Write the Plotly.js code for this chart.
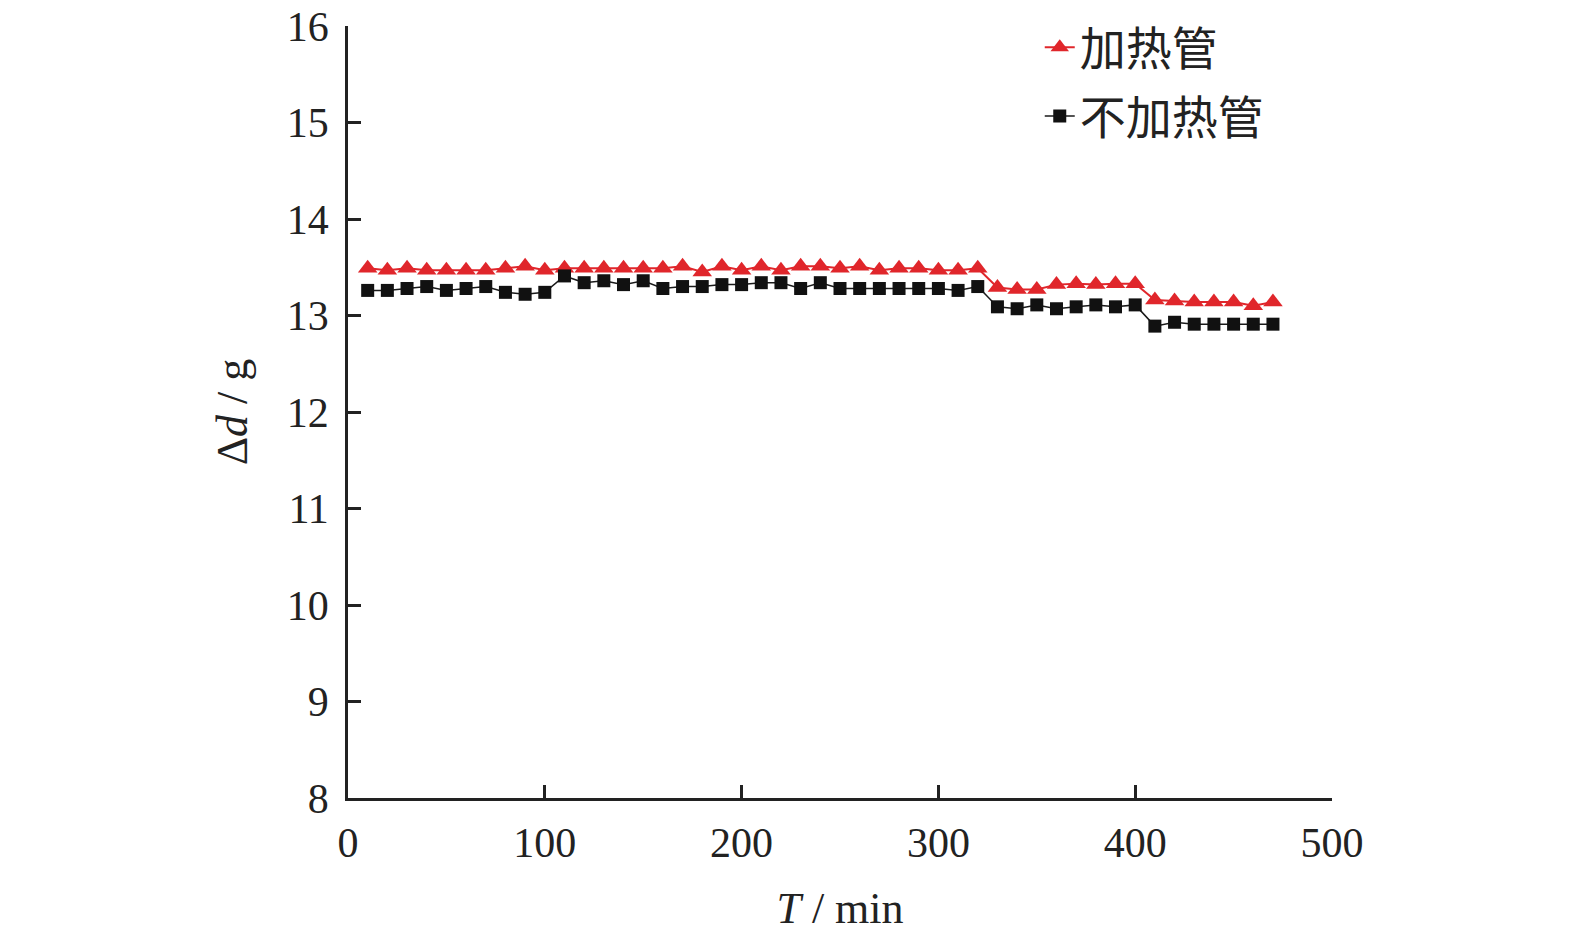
<!DOCTYPE html>
<html>
<head>
<meta charset="utf-8">
<script src="https://cdn.plot.ly/plotly-3.0.1.min.js"></script>
<style>
  html, body { margin: 0; padding: 0; background: #fff; overflow: hidden; }
  #chart { width: 1575px; height: 936px; }
</style>
</head>
<body>
<div id="chart"></div>
<script>
// time in minutes, sampled every 10 min
const timeMin = [10,20,30,40,50,60,70,80,90,100,110,120,130,140,150,160,170,180,190,200,
  210,220,230,240,250,260,270,280,290,300,310,320,330,340,350,360,370,380,390,400,
  410,420,430,440,450,460,470];

// 加热管
const heated = [13.49,13.47,13.49,13.47,13.47,13.47,13.47,13.49,13.51,13.47,
  13.49,13.49,13.49,13.49,13.49,13.49,13.51,13.45,13.51,13.47,
  13.51,13.47,13.51,13.51,13.49,13.51,13.47,13.49,13.49,13.47,13.47,13.49,
  13.29,13.27,13.27,13.32,13.33,13.32,13.33,13.33,
  13.16,13.15,13.14,13.14,13.14,13.10,13.14];

// 不加热管
const unheated = [13.26,13.26,13.28,13.30,13.26,13.28,13.30,13.24,13.22,13.24,
  13.41,13.34,13.36,13.32,13.36,13.28,13.30,13.30,13.32,13.32,
  13.34,13.34,13.28,13.34,13.28,13.28,13.28,13.28,13.28,13.28,13.26,13.30,
  13.09,13.07,13.11,13.07,13.09,13.11,13.09,13.11,
  12.89,12.93,12.91,12.91,12.91,12.91,12.91];

const seriesNames = ['加热管', '不加热管'];

const SERIF = '"Liberation Serif", "Times New Roman", serif';
const CJK = '"Noto Sans CJK SC", "Noto Sans CJK TC", sans-serif';

const traces = [
  {
    x: timeMin, y: heated, name: seriesNames[0], legendgroup: 'h',
    mode: 'lines+markers',
    line: { color: '#e0262b', width: 2 },
    marker: { symbol: 'triangle-up', size: 17, color: '#e0262b' },
  },
  {
    x: timeMin, y: unheated, name: seriesNames[1], legendgroup: 'u',
    mode: 'lines+markers',
    line: { color: '#1a1a1a', width: 1.5 },
    marker: { symbol: 'square', size: 13, color: '#111' },
  },
];

const axisCommon = {
  showline: true, linecolor: '#222', linewidth: 2.5,
  ticks: 'inside', ticklen: 13, tickwidth: 2.5, tickcolor: '#222',
  showgrid: false, zeroline: false, automargin: false,
  tickfont: { family: SERIF, size: 42, color: '#222' },
};

Plotly.newPlot('chart', traces, {
  width: 1575, height: 936,
  paper_bgcolor: '#fff', plot_bgcolor: '#fff',
  margin: { t: 26, r: 243, b: 138, l: 348, autoexpand: false },
  showlegend: true,
  legend: {
    x: 0.703, y: 1.0196, xanchor: 'left', yanchor: 'top',
    bgcolor: 'rgba(0,0,0,0)',
    font: { family: CJK, size: 46, color: '#222' },
    tracegroupgap: 6,
  },
  xaxis: Object.assign({}, axisCommon, {
    range: [0, 500], tickvals: [0, 100, 200, 300, 400, 500],
    ticklabelstandoff: 6,
    title: { text: '<i>T</i> / min', font: { family: SERIF, size: 44, color: '#222' }, standoff: 28 },
  }),
  yaxis: Object.assign({}, axisCommon, {
    range: [8, 16], dtick: 1,
    ticklabelstandoff: 8,
    title: { text: 'Δ<i>d</i> / g', font: { family: SERIF, size: 44, color: '#222' }, standoff: 26 },
  }),
}, { displayModeBar: false });
</script>
</body>
</html>
